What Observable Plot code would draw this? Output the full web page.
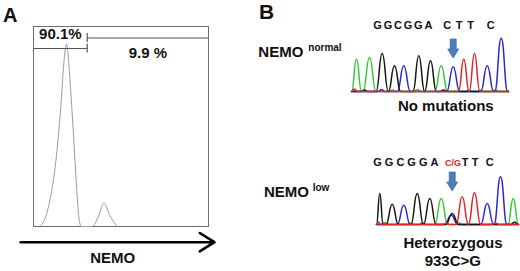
<!DOCTYPE html>
<html><head><meta charset="utf-8">
<script src="https://cdn.jsdelivr.net/npm/d3@7"></script>
<script src="https://cdn.jsdelivr.net/npm/@observablehq/plot@0.6"></script>
<style>
html,body{margin:0;padding:0;background:#fff;}
#root{position:relative;width:520px;height:271px;overflow:hidden;background:#fff;font-family:"Liberation Sans",Arial,sans-serif;}
#root > svg{position:absolute;margin:0;}
</style></head><body><div id="root"></div>
<script>
// ---------- Panel A: flow cytometry histogram (NEMO fluorescence) ----------
const histX = [3.6, 6.9, 9.7, 12.6, 14.5, 16, 17.3, 18.9, 20.2, 21.5, 22.7, 23.8, 25, 25.9, 27.3, 33.5, 37.3, 40.2, 43.6, 47.8];
const histY = [0, 4.7, 14.7, 31.3, 48, 64.7, 81.3, 91.3, 81.3, 64.7, 48, 31.3, 14.7, 4.7, 0, 0, 5.5, 11.7, 5.5, 0];
const gateLabels = ["90.1%", "9.9 %"];
const gateFrom = [0, 30.7];
const gateTo = [30.7, 100];
const gateLevel = [89, 94.25];

// ---------- Panel B: sequencing chromatograms ----------
const baseOrder = ["A", "C", "G", "T"];
const normalBases = ["A","A","G","G","C","G","G","A","C","T","T","C","C"];
const normalPos = [6, 19, 31.7, 44, 53.3, 68.3, 80, 90.7, 102.7, 113.3, 124, 136.7, 150.7];
const normalHeight = [32.3, 34, 38, 25.7, 25.7, 35.7, 30.7, 25.7, 24.7, 32.3, 38, 25.7, 53.3];
const normalNoiseBases = ["T","G","C","A","A","G","A","A","A"];
const normalNoisePos = [4, 14, 31, 42, 67, 93, 118, 130, 145];
const normalNoiseHeight = [2.5, 1.5, 2, 1.5, 2, 1.5, 1.5, 1.5, 1.5];
const normalArrowPos = 102.7;

const lowBases = ["G","G","C","G","G","A","G","C","T","T","C","C","A"];
const lowPos = [29.3, 41.7, 53.3, 66.7, 79.3, 90.7, 101.7, 100.7, 111.7, 124, 136.7, 150, 162.7];
const lowHeight = [31, 20.3, 19.3, 31, 26, 26, 11, 9.3, 27.7, 31.7, 21, 47.7, 26];
const lowNoiseBases = ["T","A","A","C","T","A","G","T"];
const lowNoisePos = [28, 34, 60, 72, 96, 108, 164, 145];
const lowNoiseHeight = [2.5, 2, 1.5, 1.5, 1.5, 2, 2.5, 1.5];
const lowArrowPos = 101.7;

const normalSequence = ["GGCGGA", "CTT", "C"];
const lowSequence = ["GGCGGA", "C/G", "TT", "C"];

const FONT = '"Liberation Sans", Arial, sans-serif';
const root = document.getElementById("root");

// Panel A plot
const hist = histX.map((x, i) => ({x, y: histY[i]}));
const gates = gateLabels.map((label, i) => ({label, x1: gateFrom[i], x2: gateTo[i], y: gateLevel[i]}));
const panelA = Plot.plot({
  width: 220, height: 271,
  marginLeft: 33, marginRight: 12, marginTop: 26, marginBottom: 45,
  x: {domain: [0, 100], axis: null},
  y: {domain: [0, 100], axis: null},
  style: {background: "transparent", overflow: "visible"},
  marks: [
    Plot.frame({stroke: "#6e6e6e", strokeWidth: 1}),
    Plot.line(hist, {x: "x", y: "y", curve: "monotone-x", stroke: "#9c9c9c", strokeWidth: 1}),
    Plot.link(gates, {x1: "x1", x2: "x2", y1: "y", y2: "y", stroke: "#555", strokeWidth: 1.2}),
    Plot.ruleX(gates, {x: (d, i) => i === 0 ? d.x2 : d.x1, y1: d => d.y - 2.2, y2: d => d.y + 2.2, stroke: "#555", strokeWidth: 1.2}),
    Plot.text([gates[0]], {x: d => (d.x1 + d.x2) / 2, y: "y", text: "label", dy: -14, fontSize: 15, fontWeight: "bold", fontFamily: FONT, fill: "#111"}),
    Plot.text([gates[1]], {x: d => (d.x1 + d.x2) / 2, y: "y", text: "label", dy: 15, fontSize: 15, fontWeight: "bold", fontFamily: FONT, fill: "#111"}),
    Plot.arrow([0], {x1: -7.4, x2: 103.4, y1: -7.85, y2: -7.85, stroke: "#000", strokeWidth: 2.6, headLength: 10, headAngle: 64})
  ]
});
panelA.style.left = "0px"; panelA.style.top = "0px";
root.appendChild(panelA);

// Chromatogram helper
function tracePoints(bases, pos, heights, nb, np, nh, start, end) {
  const peaks = bases.map((b, i) => ({base: b, pos: pos[i], h: heights[i], w: 6.5}))
    .concat(nb.map((b, i) => ({base: b, pos: np[i], h: nh[i], w: 3.5})));
  const out = [];
  for (const ch of baseOrder) {
    const s = peaks.filter(p => p.base === ch).sort((a, b) => a.pos - b.pos);
    out.push({base: ch, x: start, y: 0});
    s.forEach((p, i) => {
      const lo = i > 0 ? (p.pos - s[i - 1].pos) / 2 : p.pos - start;
      const hi = i < s.length - 1 ? (s[i + 1].pos - p.pos) / 2 : end - p.pos;
      const w = Math.min(p.w, lo, hi);
      out.push({base: ch, x: p.pos - w, y: 0}, {base: ch, x: p.pos, y: p.h}, {base: ch, x: p.pos + w, y: 0});
    });
    out.push({base: ch, x: end, y: 0});
  }
  return out;
}
const blockArrow = {draw(ctx) {
  ctx.moveTo(-3, -9.5); ctx.lineTo(3, -9.5); ctx.lineTo(3, 0.5); ctx.lineTo(5.5, 0.5);
  ctx.lineTo(0, 9.5); ctx.lineTo(-5.5, 0.5); ctx.lineTo(-3, 0.5); ctx.closePath();
}};
function chromatogram(points, arrowPos, left, top) {
  const svg = Plot.plot({
    width: 170, height: 70, marginLeft: 0, marginRight: 0, marginTop: 4, marginBottom: 5,
    x: {domain: [0, 170], axis: null},
    y: {domain: [0, 61], axis: null},
    color: {domain: baseOrder, range: ["#36c936", "#2a2ad2", "#161616", "#e3242b"]},
    style: {background: "transparent", overflow: "visible"},
    marks: [
      Plot.line(points, {x: "x", y: "y", z: "base", stroke: "base", curve: "bump-x", strokeWidth: 1.5}),
      Plot.dot([arrowPos], {x: d => d, y: 43, symbol: blockArrow, r: 5, fill: "#4a7ebb", stroke: "#3a679c", strokeWidth: 0.7})
    ]
  });
  svg.style.left = left + "px"; svg.style.top = top + "px";
  root.appendChild(svg);
}
chromatogram(tracePoints(normalBases, normalPos, normalHeight, normalNoiseBases, normalNoisePos, normalNoiseHeight, 1, 158), normalArrowPos, 350, 25.7);
chromatogram(tracePoints(lowBases, lowPos, lowHeight, lowNoiseBases, lowNoisePos, lowNoiseHeight, 26, 168), lowArrowPos, 350, 159.3);

// Text annotations
const overlay = d3.create("svg").attr("width", 520).attr("height", 271)
  .style("left", "0px").style("top", "0px").style("overflow", "visible");
function label(txt, x, y, size, opts = {}) {
  overlay.append("text").attr("x", x).attr("y", y).attr("font-size", size)
    .attr("font-weight", "bold").attr("font-family", FONT)
    .attr("text-anchor", opts.anchor || "start").attr("fill", opts.fill || "#111")
    .style("letter-spacing", (opts.ls || 0) + "px").text(txt);
}
label("A", 3, 22, 20);
label("B", 259, 18.5, 21);
label("NEMO", 112.7, 263.3, 15, {anchor: "middle"});
label("NEMO", 258.3, 57.3, 15);
label("normal", 308.3, 50.7, 10);
label("NEMO", 264, 197.3, 15);
label("low", 312.7, 190.7, 10);
label(normalSequence[0], 373.3, 29.3, 11, {ls: 1.8});
label(normalSequence[1], 443.3, 29.3, 11, {ls: 4.6});
label(normalSequence[2], 486.7, 29.3, 11);
label(lowSequence[0], 373.3, 166, 11, {ls: 3});
label(lowSequence[1], 445, 166, 9, {fill: "#e0201e"});
label(lowSequence[2], 461.7, 166, 11, {ls: 3.3});
label(lowSequence[3], 485.7, 166, 11);
label("No mutations", 445.8, 111, 15, {anchor: "middle"});
label("Heterozygous", 453, 247.7, 15, {anchor: "middle"});
label("933C>G", 452.8, 265.7, 15, {anchor: "middle"});
root.appendChild(overlay.node());
</script></body></html>
